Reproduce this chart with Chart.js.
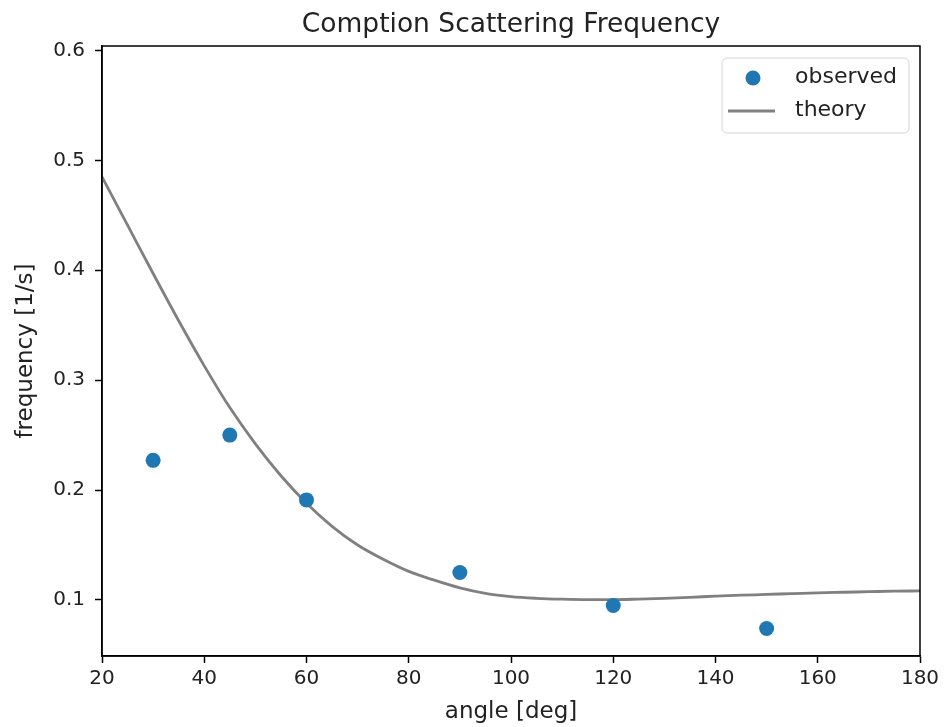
<!DOCTYPE html>
<html>
<head>
<meta charset="utf-8">
<script src="https://cdn.jsdelivr.net/npm/chart.js@4/dist/chart.umd.min.js"></script>
<style>
  html, body { margin: 0; padding: 0; background: #fff; }
  #wrap { width: 946px; height: 727px; }
</style>
</head>
<body>
<div id="wrap"><canvas id="grafico"></canvas></div>
<script>
// observed points
var obsAngle = [30, 45, 60, 90, 120, 150];
var obsFreq = [0.227, 0.250, 0.191, 0.125, 0.095, 0.074];

// theory curve
var theoryAngle = [20, 25, 30, 35, 40, 45, 50, 55, 60, 65, 70, 75, 80, 85, 90, 95, 100, 105, 110, 115, 120, 125, 130, 135, 140, 145, 150, 155, 160, 165, 170, 175, 180];
var theoryFreq = [0.485, 0.441, 0.397, 0.354, 0.313, 0.275, 0.242, 0.213, 0.188, 0.167, 0.150, 0.137, 0.126, 0.118, 0.111, 0.106, 0.103, 0.1015, 0.1007, 0.1003, 0.1003, 0.1008, 0.1015, 0.1024, 0.1034, 0.1043, 0.105, 0.1058, 0.1065, 0.107, 0.1075, 0.108, 0.1082];

var xTicks = [20, 40, 60, 80, 100, 120, 140, 160, 180];
var yTicks = [0.1, 0.2, 0.3, 0.4, 0.5, 0.6];

var titleText = 'Comption Scattering Frequency';

var FONT = "'DejaVu Sans', sans-serif";
var TXT = '#222';

function pts(xs, ys){
  var result = [];
  for (var i = 0; i < xs.length; i++) {
    result.push({x: xs[i], y: ys[i]});
  }
  return result;
}

// box around the plot, title over the plot area, legend
var frame = {
  id: 'frame',
  afterDraw: function(chart){
    var ctx = chart.ctx, a = chart.chartArea;
    ctx.save();
    ctx.strokeStyle = '#000';
    ctx.lineWidth = 1.5;
    ctx.strokeRect(a.left, a.top, a.right - a.left, a.bottom - a.top);

    ctx.fillStyle = TXT;
    ctx.font = '26.5px ' + FONT;
    ctx.textAlign = 'center';
    ctx.textBaseline = 'alphabetic';
    ctx.fillText(titleText, (a.left + a.right) / 2, 31.5);

    // legend
    var x0 = 722, y0 = 58, w = 187, h = 75, r = 5;
    ctx.beginPath();
    ctx.moveTo(x0 + r, y0);
    ctx.arcTo(x0 + w, y0, x0 + w, y0 + h, r);
    ctx.arcTo(x0 + w, y0 + h, x0, y0 + h, r);
    ctx.arcTo(x0, y0 + h, x0, y0, r);
    ctx.arcTo(x0, y0, x0 + w, y0, r);
    ctx.closePath();
    ctx.fillStyle = 'rgba(255,255,255,0.8)';
    ctx.fill();
    ctx.strokeStyle = '#d6d6d6';
    ctx.lineWidth = 1;
    ctx.stroke();

    var ds = chart.data.datasets;
    ctx.fillStyle = ds[0].backgroundColor;
    ctx.beginPath();
    ctx.arc(753, 78, 7.5, 0, Math.PI * 2);
    ctx.fill();

    ctx.strokeStyle = ds[1].borderColor;
    ctx.lineWidth = 2.8;
    ctx.beginPath();
    ctx.moveTo(728, 111);
    ctx.lineTo(775, 111);
    ctx.stroke();

    ctx.fillStyle = TXT;
    ctx.font = '22px ' + FONT;
    ctx.textBaseline = 'middle';
    ctx.textAlign = 'left';
    ctx.fillText(ds[0].label, 795, 77);
    ctx.fillText(ds[1].label, 795, 110);
    ctx.restore();
  }
};

var ctx = document.getElementById('grafico');
var chart = new Chart(ctx, {
  type: 'scatter',
  data: {
    datasets: [{
      label: 'observed',
      data: pts(obsAngle, obsFreq),
      backgroundColor: '#1f77b4',
      borderColor: '#1f77b4',
      pointRadius: 7.5,
      pointBorderWidth: 0,
      showLine: false,
      order: 1
    }, {
      label: 'theory',
      data: pts(theoryAngle, theoryFreq),
      borderColor: '#808080',
      backgroundColor: '#808080',
      borderWidth: 2.8,
      pointRadius: 0,
      showLine: true,
      cubicInterpolationMode: 'monotone',
      order: 2
    }]
  },
  options: {
    responsive: true,
    maintainAspectRatio: false,
    animation: false,
    layout: { padding: { left: 0, right: 26, top: 46, bottom: 0 } },
    plugins: {
      legend: { display: false },
      tooltip: { enabled: false },
      title: { display: false }
    },
    scales: {
      x: {
        type: 'linear',
        min: 20,
        max: 180,
        afterFit: function(s){ s.height = 71; },
        afterBuildTicks: function(s){ s.ticks = xTicks.map(function(v){ return {value: v}; }); },
        grid: { drawOnChartArea: false, drawTicks: true, tickLength: 7, tickWidth: 1.5, tickColor: '#000' },
        border: { display: true, color: '#000', width: 1.5 },
        ticks: { color: TXT, font: { family: FONT, size: 20 }, padding: 4, maxRotation: 0 },
        title: { display: true, text: 'angle [deg]', color: TXT, font: { family: FONT, size: 23 }, padding: { top: 0, bottom: 1 } }
      },
      y: {
        type: 'linear',
        min: 0.049,
        max: 0.604,
        afterFit: function(s){ s.width = 102; },
        afterBuildTicks: function(s){ s.ticks = yTicks.map(function(v){ return {value: v}; }); },
        grid: { drawOnChartArea: false, drawTicks: true, tickLength: 7, tickWidth: 1.5, tickColor: '#000' },
        border: { display: true, color: '#000', width: 1.5 },
        ticks: { color: TXT, font: { family: FONT, size: 20 }, padding: 10, callback: function(v){ return v.toFixed(1); } },
        title: { display: true, text: 'frequency [1/s]', color: TXT, font: { family: FONT, size: 23 }, padding: { top: 12, bottom: 0 } }
      }
    }
  },
  plugins: [frame]
});
</script>
</body>
</html>
